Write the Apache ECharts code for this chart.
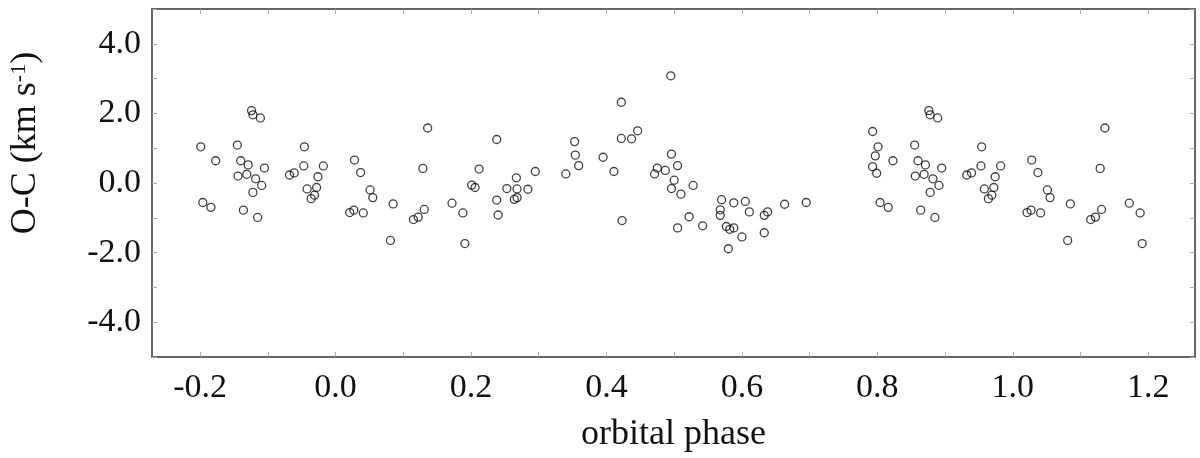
<!DOCTYPE html>
<html>
<head>
<meta charset="utf-8">
<script src="https://cdn.jsdelivr.net/npm/echarts@6.0.0/dist/echarts.min.js"></script>
<style>
  html, body { margin: 0; padding: 0; background: #fff; }
  #chart { width: 1200px; height: 458px; }
</style>
</head>
<body>
<div id="chart"></div>
<script>
// measured phase (0..1) and O-C residual (km/s)
const phase = [
  0.021, 0.027, 0.028, 0.037, 0.041, 0.051, 0.055, 0.081, 0.085, 0.115,
  0.122, 0.129, 0.131, 0.136, 0.172, 0.188, 0.191, 0.201, 0.206, 0.212,
  0.238, 0.238, 0.240, 0.253, 0.267, 0.268, 0.264, 0.268, 0.284, 0.295,
  0.340, 0.353, 0.354, 0.359, 0.395, 0.411, 0.422, 0.422, 0.423, 0.437,
  0.446, 0.471, 0.475, 0.487, 0.495, 0.496, 0.496, 0.500, 0.505, 0.505,
  0.510, 0.522, 0.528, 0.542, 0.568, 0.568, 0.570, 0.577, 0.580, 0.582,
  0.588, 0.588, 0.600, 0.605, 0.611, 0.633, 0.633, 0.638, 0.663, 0.695,
  0.793, 0.793, 0.797, 0.799, 0.801, 0.823, 0.804, 0.816, 0.855, 0.860,
  0.871, 0.856, 0.869, 0.882, 0.895, 0.891, 0.878, 0.864, 0.885, 0.876,
  0.878, 0.889, 0.954, 0.953, 0.932, 0.939, 0.982, 0.974, 0.958, 0.972,
  0.969, 0.964
]
const residual = [
  -0.85, -0.78, 0.66, 0.30, -0.86, -0.20, -0.42, -1.65, -0.60, -1.05,
  -0.98, 0.42, -0.76, 1.58, -0.58, -0.86, -1.74, -0.06, -0.13, 0.40,
  1.25, -0.49, -0.92, -0.16, 0.15, -0.17, -0.47, -0.42, -0.18, 0.33,
  0.26, 1.19, 0.80, 0.50, 0.74, 0.33, 2.32, 1.28, -1.08, 1.27,
  1.50, 0.26, 0.43, 0.36, 3.08, 0.83, -0.16, 0.08, 0.50, -1.29,
  -0.32, -0.97, -0.07, -1.23, -0.77, -0.93, -0.48, -1.25, -1.89, -1.33,
  -0.57, -1.29, -1.55, -0.53, -0.83, -0.93, -1.43, -0.83, -0.61, -0.56,
  1.48, 0.47, 0.78, 0.28, 1.04, 0.64, -0.56, -0.70, 1.09, 0.64,
  0.52, 0.20, 0.25, 0.12, 0.43, -0.07, -0.27, -0.78, -0.99, 2.08,
  1.96, 1.87, 1.04, 0.49, 0.23, 0.29, 0.49, 0.18, -0.17, -0.13,
  -0.35, -0.45
]

const xTicks = [-0.2, -0.1, 0.0, 0.1, 0.2, 0.3, 0.4, 0.5, 0.6, 0.7, 0.8, 0.9, 1.0, 1.1, 1.2]
const xLabels = [-0.2, 0.0, 0.2, 0.4, 0.6, 0.8, 1.0, 1.2]
const yTicks = [-5, -4, -3, -2, -1, 0, 1, 2, 3, 4, 5]
const yLabels = [-4, -2, 0, 2, 4]

// phase-folded: repeat points so the window runs from -0.2 to 1.2
const points = []
phase.forEach((p, i) => {
  points.push([p, residual[i]])
  if (p >= 0.8) points.push([p - 1, residual[i]])
  if (p < 0.2) points.push([p + 1, residual[i]])
})

const FONT = '"Liberation Serif", "Times New Roman", serif'
const lineStyle = { color: '#666', width: 2 }
const tickStyle = { color: '#aaa', width: 1 }

const xBase = {
  type: 'value',
  min: -0.271,
  max: 1.269,
  splitLine: { show: false },
  axisLine: { show: true, onZero: false, lineStyle },
  axisTick: { show: true, inside: true, length: 5, lineStyle: tickStyle, customValues: xTicks }
}
const yBase = {
  type: 'value',
  min: -5,
  max: 5,
  splitLine: { show: false },
  axisLine: { show: true, onZero: false, lineStyle },
  axisTick: { show: true, inside: true, length: 5, lineStyle: tickStyle, customValues: yTicks }
}

const chart = echarts.init(document.getElementById('chart'), null, { renderer: 'canvas' })
chart.setOption({
  animation: false,
  backgroundColor: '#fff',
  grid: { left: 146, right: 5, top: 9, bottom: 97, containLabel: false },
  xAxis: [
    Object.assign({}, xBase, {
      position: 'bottom',
      name: 'orbital phase',
      nameLocation: 'middle',
      nameGap: 60,
      nameTextStyle: { fontFamily: FONT, fontSize: 36, color: '#111' },
      axisLabel: {
        customValues: xLabels,
        margin: 14,
        fontFamily: FONT,
        fontSize: 34,
        color: '#111',
        formatter: v => v.toFixed(1)
      }
    }),
    Object.assign({}, xBase, { position: 'top', axisLabel: { show: false } })
  ],
  yAxis: [
    Object.assign({}, yBase, {
      position: 'left',
      name: 'O-C (km s{sup|-1})',
      nameLocation: 'middle',
      nameGap: 108,
      nameTextStyle: {
        fontFamily: FONT, fontSize: 36, color: '#111',
        padding: [0, 0, 0, 80],
        rich: { sup: { fontFamily: FONT, fontSize: 22, color: '#111', verticalAlign: 'top', padding: [0, 0, 14, 0] } }
      },
      axisLabel: {
        customValues: yLabels,
        margin: 11,
        fontFamily: FONT,
        fontSize: 34,
        color: '#111',
        formatter: v => v.toFixed(1)
      }
    }),
    Object.assign({}, yBase, { position: 'right', axisLabel: { show: false } })
  ],
  series: [{
    type: 'scatter',
    xAxisIndex: 0,
    yAxisIndex: 0,
    data: points,
    symbol: 'circle',
    symbolSize: 8,
    itemStyle: { color: 'transparent', borderColor: '#111', borderWidth: 1.3 },
    emphasis: { disabled: true }
  }]
})
</script>
</body>
</html>
